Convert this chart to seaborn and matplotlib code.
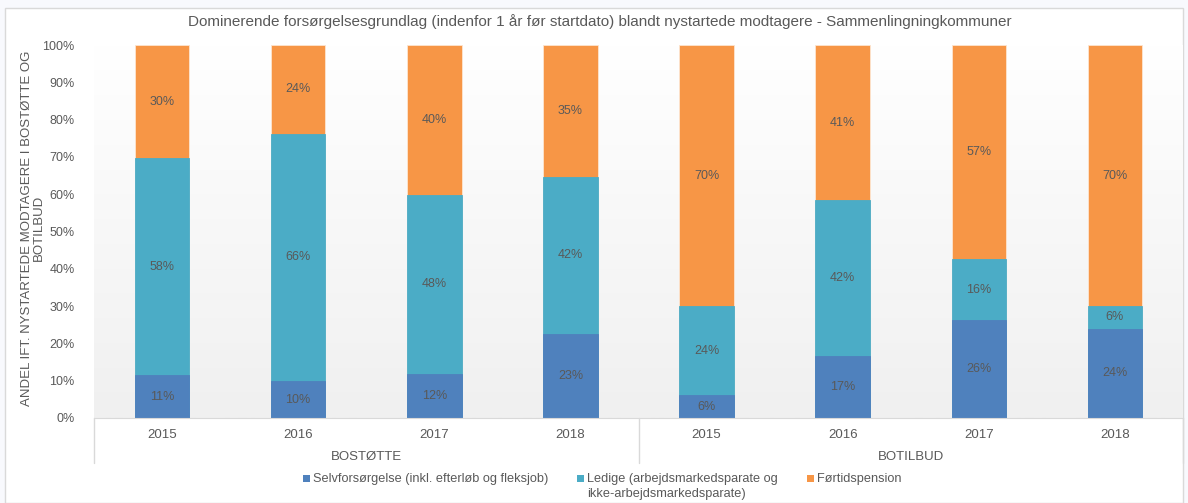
import numpy as np
import pandas as pd
import seaborn as sns
from matplotlib import pyplot as plt
from matplotlib.colors import LinearSegmentedColormap
from matplotlib.patches import Rectangle

groups = ['BOSTØTTE', 'BOTILBUD']
years = ['2015', '2016', '2017', '2018']
selv = [11.4, 9.9, 11.9, 22.6, 6.1, 16.6, 26.2, 23.9]
ledige = [58.2, 66.3, 47.8, 42.0, 23.8, 41.9, 16.4, 6.1]
fortid = [30.4, 23.8, 40.3, 35.4, 70.1, 41.4, 57.4, 70.0]
series = ['Selvforsørgelse (inkl. efterløb og fleksjob)',
          'Ledige (arbejdsmarkedsparate og\nikke-arbejdsmarkedsparate)',
          'Førtidspension']
colors = ['#4f81bd', '#4bacc6', '#f79646']

sns.set_style('white')
plt.rcParams['font.family'] = ['Liberation Sans', 'DejaVu Sans']
txt = '#595959'
W, H = 1188, 503

df = pd.DataFrame({
    'kat': [g + ' ' + y for g in groups for y in years],
    'selv': selv, 'ledige': ledige, 'fortid': fortid,
})
df['top2'] = df['selv'] + df['ledige']
df['top3'] = df['top2'] + df['fortid']

fig = plt.figure(figsize=(11.88, 5.03), dpi=100, facecolor='#f8f9fd')
fig.patches.append(Rectangle((5 / W, 0), 1 - 10 / W, 1 - 8 / H, transform=fig.transFigure,
                             facecolor='white', edgecolor='#d9d9d9', lw=1, zorder=-1))
ax = fig.add_axes([94 / W, 1 - 418 / H, 1089 / W, 373 / H])

# gradient background in the plot area
grad = np.linspace(1, 0, 256).reshape(-1, 1)
ax.imshow(grad, extent=(-0.5, 7.5, 0, 100), aspect='auto',
          cmap=LinearSegmentedColormap.from_list('g', ['#f0f0f0', '#ffffff']), zorder=0)

for col, c in zip(['top3', 'top2', 'selv'], colors[::-1]):
    sns.barplot(data=df, x='kat', y=col, color=c, width=0.4, saturation=1, ax=ax, zorder=2,
                linewidth=0.6, edgecolor='#fde5d0' if c == colors[2] else c)

# labels
for i in range(len(df)):
    s, l, f = df['selv'][i], df['ledige'][i], df['fortid'][i]
    for val, mid in [(s, s / 2), (l, s + l / 2), (f, s + l + f / 2)]:
        ax.text(i, mid, f'{val:.0f}%', ha='center', va='center', fontsize=9, color=txt, zorder=5)

ax.set_xlim(-0.5, 7.5)
ax.set_ylim(0, 100)
ax.set_yticks(np.arange(0, 101, 10))
ax.set_yticklabels([f'{v}%' for v in range(0, 101, 10)], fontsize=9, color=txt)
ax.tick_params(axis='y', length=0, pad=14)
ax.set_xticks(range(8))
ax.set_xticklabels(years * 2, fontsize=9.5, color=txt)
ax.tick_params(axis='x', length=0, pad=8)
ax.set_xlabel('')
ax.set_ylabel('')
for sp in ['top', 'right', 'left']:
    ax.spines[sp].set_visible(False)
ax.spines['bottom'].set_color('#d9d9d9')

# group labels and separators
for gi, g in enumerate(groups):
    ax.text(gi * 4 + 1.5, -10.5, g, ha='center', va='center', fontsize=9.5, color=txt, clip_on=False)
for xs in [-0.5, 3.5, 7.5]:
    ax.plot([xs, xs], [0, -12], color='#d9d9d9', lw=1, clip_on=False)

fig.text(33 / W, 1 - 228 / H, 'ANDEL IFT. NYSTARTEDE MODTAGERE I BOSTØTTE OG\nBOTILBUD',
         rotation=90, ha='center', va='center', fontsize=9.5, color=txt, linespacing=1.0)
fig.text(600 / W, 1 - 22 / H,
         'Dominerende forsørgelsesgrundlag (indenfor 1 år før startdato) blandt nystartede modtagere - Sammenlingningkommuner',
         ha='center', va='center', fontsize=11, color=txt)

# legend, handles aligned with the first text line
for x0, lab, c in zip([303, 577, 807], series, colors):
    fig.patches.append(Rectangle((x0 / W, 1 - 482 / H), 7 / W, 7 / H, transform=fig.transFigure,
                                 facecolor=c, edgecolor='none'))
    fig.text((x0 + 10) / W, 1 - 473 / H, lab, ha='left', va='top', fontsize=9.2, color=txt,
             linespacing=1.3)

plt.savefig('out.png', dpi=100, facecolor=fig.get_facecolor())
